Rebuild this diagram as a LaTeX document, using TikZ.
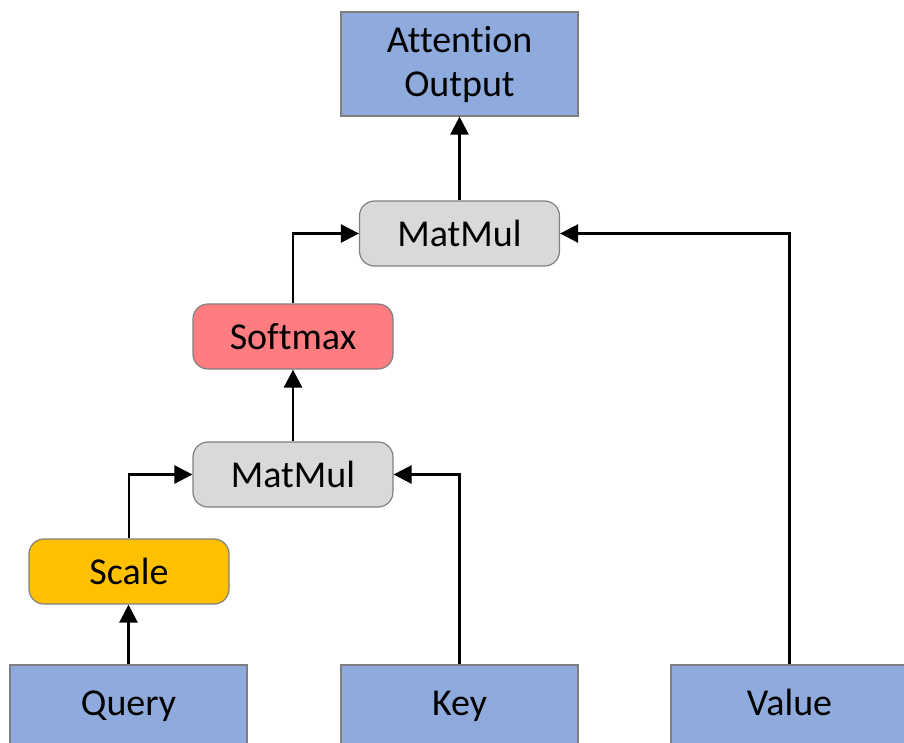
\documentclass[tikz,border=0pt]{standalone}
\usepackage{fontspec}
\setmainfont[Ligatures=NoCommon]{Carlito}
\usetikzlibrary{arrows.meta}
\definecolor{inblue}{HTML}{8FAADC}
\definecolor{opgrey}{HTML}{D9D9D9}
\definecolor{opred}{HTML}{FF7C80}
\definecolor{opyellow}{HTML}{FFC000}
\definecolor{edgegrey}{HTML}{7F7F7F}
\begin{document}
\begin{tikzpicture}[x=1pt,y=-1pt,
  every node/.style={font=\fontsize{38}{44}\selectfont, text=black},
  tensor/.style={draw=edgegrey, line width=1.2pt, fill=inblue, minimum width=237pt, inner sep=0pt, align=center},
  inputbox/.style={tensor, minimum height=84pt, text height=25pt, text depth=8pt},
  opbox/.style={draw=edgegrey, line width=1.2pt, rounded corners=15pt, minimum width=200pt, minimum height=65pt, inner sep=0pt},
  flow/.style={line width=2.6pt, -{Triangle[length=18pt,width=18pt]}}]
\useasboundingbox (0,0) rectangle (904,742);
\clip (0,0) rectangle (904,742);
% inputs and output
\node[tensor, minimum height=104pt] (out) at (459.5,64) {Attention\\Output};
\node[inputbox] (q) at (128.5,707) {Query};
\node[inputbox] (k) at (459.5,707) {Key};
\node[inputbox] (v) at (789.5,707) {Value};
% operations
\node[opbox, fill=opgrey] (mm2) at (459.5,233.5) {MatMul};
\node[opbox, fill=opred] (sm) at (293,336.5) {Softmax};
\node[opbox, fill=opgrey] (mm1) at (293,474.5) {MatMul};
\node[opbox, fill=opyellow] (sc) at (129,571.5) {Scale};
% connectors
\draw[flow] (q.north) -- (q.north |- sc.south);
\draw[flow] (sc.north) |- (mm1.west);
\draw[flow] (k.north) |- (mm1.east);
\draw[flow] (mm1.north) -- (sm.south);
\draw[flow] (sm.north) |- (mm2.west);
\draw[flow] (v.north) |- (mm2.east);
\draw[flow] (mm2.north) -- (out.south);
\end{tikzpicture}
\end{document}
